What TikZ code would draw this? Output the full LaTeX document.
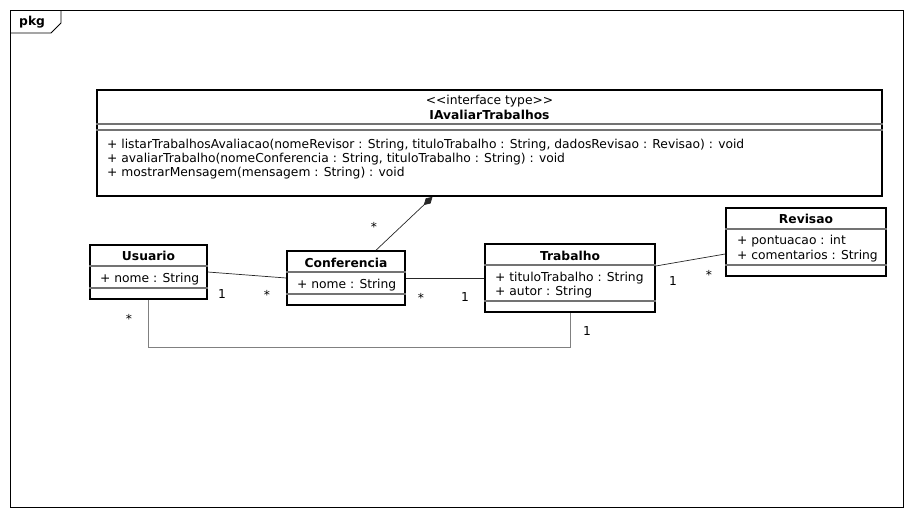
\documentclass[tikz,border=0pt]{standalone}
\usepackage{fontspec}
\setmainfont{DejaVu Sans}
\usepackage{tikz}
\usetikzlibrary{positioning,calc,arrows.meta}

\newcommand{\umlfont}{\fontsize{12.3}{14}\selectfont}

\tikzset{
  classbox/.style={draw, line width=1.6pt, inner sep=0pt},
  sepline/.style={draw=black!55, line width=1.8pt},
  title/.style={font=\umlfont\bfseries, inner sep=0pt},
  attr/.style={font=\umlfont, anchor=west, inner sep=0pt},
  mult/.style={font=\umlfont, inner sep=0pt},
  assoc/.style={draw=black!85, line width=0.7pt},
}

\begin{document}
\begin{tikzpicture}[x=1pt, y=-1pt]
\useasboundingbox (0,0) rectangle (913,517);

% frame
\draw[line width=0.8pt] (10,10) rectangle (903,507);
\node[title, anchor=west] (pkg) at (19,22) {pkg};
\draw[line width=0.8pt] (10,33) -- (51,33) -- (61,23) -- (61,10);

% interface
\node[classbox, minimum width=785, minimum height=106] (iface) at (489.5,143) {};
\node[mult] (stereo) at (489.5,101) {<{}<interface type>{}>};
\node[title] (ifname) at (489.5,115) {IAvaliarTrabalhos};
\draw[sepline] ([yshift=-35]iface.north west) -- ([yshift=-35]iface.north east);
\draw[sepline] ([yshift=-41]iface.north west) -- ([yshift=-41]iface.north east);
\node[attr] (op1) at (107,145) {+ listarTrabalhosAvaliacao(nomeRevisor : String, tituloTrabalho : String, dadosRevisao : Revisao) : void};
\node[attr] (op2) at (107,159) {+ avaliarTrabalho(nomeConferencia : String, tituloTrabalho : String) : void};
\node[attr] (op3) at (107,173) {+ mostrarMensagem(mensagem : String) : void};

% Usuario
\node[classbox, minimum width=117, minimum height=54] (usu) at (148.5,272) {};
\node[title] (usutitle) at (148.5,256) {Usuario};
\draw[sepline] ([yshift=-22]usu.north west) -- ([yshift=-22]usu.north east);
\node[attr] (usunome) at (100,279) {+ nome : String};
\draw[sepline] ([yshift=-44]usu.north west) -- ([yshift=-44]usu.north east);

% Conferencia
\node[classbox, minimum width=118, minimum height=54] (conf) at (346,278) {};
\node[title] (conftitle) at (346,263) {Conferencia};
\draw[sepline] ([yshift=-22]conf.north west) -- ([yshift=-22]conf.north east);
\node[attr] (confnome) at (297,285) {+ nome : String};
\draw[sepline] ([yshift=-44]conf.north west) -- ([yshift=-44]conf.north east);

% Trabalho
\node[classbox, minimum width=170, minimum height=68] (trab) at (570,278) {};
\node[title] (trabtitle) at (570,256) {Trabalho};
\draw[sepline] ([yshift=-22]trab.north west) -- ([yshift=-22]trab.north east);
\node[attr] (trabtitulo) at (495,278) {+ tituloTrabalho : String};
\node[attr] (trabautor) at (495,292) {+ autor : String};
\draw[sepline] ([yshift=-58]trab.north west) -- ([yshift=-58]trab.north east);

% Revisao
\node[classbox, minimum width=160, minimum height=68] (rev) at (806,242) {};
\node[title] (revtitle) at (806,219) {Revisao};
\draw[sepline] ([yshift=-22]rev.north west) -- ([yshift=-22]rev.north east);
\node[attr] (revpont) at (737,241) {+ pontuacao : int};
\node[attr] (revcom) at (737,256) {+ comentarios : String};
\draw[sepline] ([yshift=-58]rev.north west) -- ([yshift=-58]rev.north east);

% associations
\draw[assoc] (usu.east) -- (conf.west);
\node[mult] (m1) at (222,294) {1};
\node[mult] (m2) at (267,295) {*};

\draw[assoc] (conf.east) -- (trab.west);
\node[mult] (m3) at (421,298) {*};
\node[mult] (m4) at (465,297) {1};

\draw[assoc] ([yshift=12]trab.east) -- ([yshift=-12]rev.west);
\node[mult] (m5) at (673,281) {1};
\node[mult] (m6) at (709,275) {*};

\draw[assoc, -{Diamond[length=12pt, width=7pt]}] ([xshift=30]conf.north) -- ([xshift=-57]iface.south);
\node[mult] (m7) at (374,227) {*};

\draw[assoc, draw=gray] (usu.south) -- ++(0,48) -| (trab.south);
\node[mult] (m8) at (129,319) {*};
\node[mult] (m9) at (587,331) {1};
\end{tikzpicture}
\end{document}
